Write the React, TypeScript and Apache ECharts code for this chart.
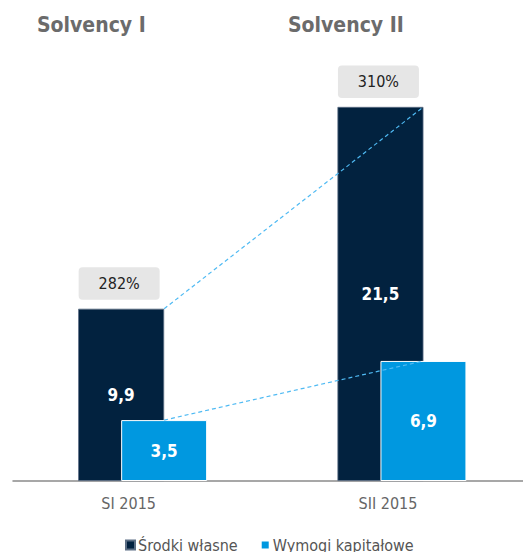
import React, { useEffect, useRef } from "react";
import * as echarts from "echarts";

const categories = ["SI 2015", "SII 2015"];
const ownFunds = [9.9, 21.5];
const capitalReq = [3.5, 6.9];
const ratios = [282, 310];
const titles = ["Solvency I", "Solvency II"];
const seriesNames = ["Środki własne", "Wymogi kapitałowe"];

const FONT = "'DejaVu Sans Condensed', 'DejaVu Sans', sans-serif";
const BAR_W = 86;
const DARK = "#02223f";
const LIGHT = "#0098e0";

const fmt = (v: number) => String(v).replace(".", ",");

export default function App() {
  const ref = useRef<HTMLDivElement>(null);
  useEffect(() => {
    const chart = echarts.init(ref.current!, null, { renderer: "svg" });
    const ratioData = categories.map((_, i) => [i, ownFunds[i], ratios[i]]);
    const lineData = [
      [0, ownFunds[0], 1, ownFunds[1]],
      [0, capitalReq[0], 1, capitalReq[1]],
    ];
    const titleStyle = { fontFamily: FONT, fontSize: 21, fontWeight: "bold", color: "#6b6b6b" };
    chart.setOption({
      animation: false,
      title: [
        { text: titles[0], left: 32, top: 9, textStyle: titleStyle },
        { text: titles[1], left: 283, top: 9, textStyle: titleStyle },
      ],
      legend: {
        left: 120,
        top: 532,
        itemWidth: 9,
        itemHeight: 9,
        itemGap: 22,
        icon: "rect",
        textStyle: { fontFamily: FONT, fontSize: 16, color: "#555", padding: [0, 0, 0, -2] },
        data: seriesNames,
      },
      grid: { left: 13, top: 46, width: 518.6, bottom: 71, outerBoundsMode: "none", containLabel: false },
      xAxis: {
        type: "category",
        data: categories,
        axisLine: { lineStyle: { color: "#8a8a8a", width: 1.5 } },
        axisTick: { show: false },
        axisLabel: { fontFamily: FONT, fontSize: 16, color: "#666", margin: 14, padding: [0, 28, 0, 0] },
      },
      yAxis: { type: "value", min: 0, max: 25, show: false, splitLine: { show: false } },
      series: [
        {
          name: seriesNames[0],
          type: "bar",
          data: ownFunds,
          barWidth: BAR_W,
          barGap: "-50%",
          itemStyle: { color: DARK, borderColor: "#5d6f85", borderWidth: 0.8 },
          label: { show: true, position: "inside", formatter: (p: any) => fmt(p.value), color: "#fff", fontFamily: FONT, fontWeight: "bold", fontSize: 17 },
        },
        {
          name: seriesNames[1],
          type: "bar",
          data: capitalReq,
          barWidth: BAR_W,
          barGap: "-50%",
          itemStyle: { color: LIGHT, borderColor: "#fff", borderWidth: 1 },
          label: { show: true, position: "inside", formatter: (p: any) => fmt(p.value), color: "#fff", fontFamily: FONT, fontWeight: "bold", fontSize: 17 },
        },
        {
          type: "custom",
          data: lineData,
          z: 5,
          silent: true,
          renderItem: (params: any, api: any) => {
            const a = api.coord([api.value(0), api.value(1)]);
            const b = api.coord([api.value(2), api.value(3)]);
            const off = BAR_W / 4;
            return {
              type: "line",
              shape: { x1: a[0] + off, y1: a[1], x2: b[0] + off, y2: b[1] },
              style: { stroke: "#4fbaf3", lineWidth: 1.2, lineDash: [4, 3], fill: null },
            };
          },
        },
        {
          type: "custom",
          data: ratioData,
          z: 6,
          silent: true,
          renderItem: (params: any, api: any) => {
            const p = api.coord([api.value(0), api.value(1)]);
            const cx = p[0] - BAR_W / 4 - 2;
            const boxH = 32.5;
            const boxW = 81;
            const top = p[1] - 9 - boxH;
            return {
              type: "group",
              children: [
                { type: "rect", shape: { x: cx - boxW / 2, y: top, width: boxW, height: boxH, r: 4 }, style: { fill: "#e6e6e6" } },
                {
                  type: "text",
                  x: cx,
                  y: top + boxH / 2,
                  style: { text: api.value(2) + "%", align: "center", verticalAlign: "middle", font: `16px ${FONT}`, fill: "#222" },
                },
              ],
            };
          },
        },
      ],
    });
    return () => chart.dispose();
  }, []);
  return <div ref={ref} style={{ position: "absolute", left: 0, top: 0, width: 523, height: 552 }} />;
}
